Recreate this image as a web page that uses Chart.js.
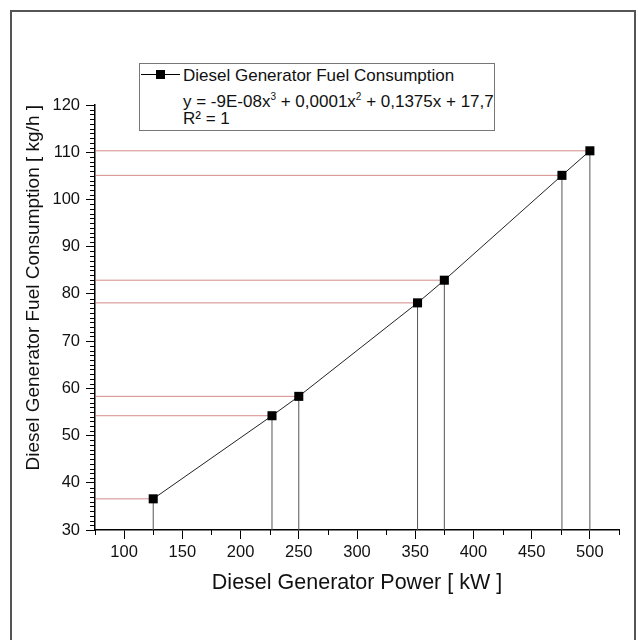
<!DOCTYPE html>
<html>
<head>
<meta charset="utf-8">
<script src="https://cdn.jsdelivr.net/npm/chart.js@4"></script>
<style>
  html, body { margin: 0; padding: 0; background: #fff; }
  #wrap { position: relative; width: 638px; height: 640px; overflow: hidden; font-family: "Liberation Sans", Arial, sans-serif; color: #111; }
  #frame { position: absolute; left: 10px; top: 10px; width: 626px; height: 700px; border: 2px solid #555; box-sizing: border-box; }
  canvas { position: absolute; left: 0; top: 0; }
  #legend { position: absolute; left: 139px; top: 63px; width: 356px; height: 68px; border: 1px solid #777; box-sizing: border-box; background: #fff; }
  .lg { position: absolute; left: 183px; font-size: 17px; line-height: 17px; white-space: nowrap; }
  .lg sup { font-size: 10px; line-height: 0; vertical-align: baseline; position: relative; top: -7px; }
  #mkLine { position: absolute; left: 141px; top: 74px; width: 39px; height: 1px; background: #000; }
  #mkBox { position: absolute; left: 156px; top: 70px; width: 9px; height: 9px; background: #000; }
</style>
</head>
<body>
<div id="wrap">
  <div id="frame"></div>
  <canvas id="fuelChart" width="638" height="640"></canvas>
  <div id="legend"></div>
  <div id="mkLine"></div>
  <div id="mkBox"></div>
  <div class="lg" style="top:67px">Diesel Generator Fuel Consumption</div>
  <div class="lg" style="top:93px">y = -9E-08x<sup>3</sup> + 0,0001x<sup>2</sup> + 0,1375x + 17,7</div>
  <div class="lg" style="top:110px">R² = 1</div>
</div>
<script>
// measured points (power kW -> fuel kg/h)
const powerKW = [125, 227, 250, 352, 375, 476, 500];
const fuelKgH = [36.6, 54.2, 58.3, 78.1, 82.9, 105.1, 110.3];

const xMajorTicks = [100, 150, 200, 250, 300, 350, 400, 450, 500];
const yMajorTicks = [30, 40, 50, 60, 70, 80, 90, 100, 110, 120];
const xMin = 75, xMax = 525, xMinorStep = 25;
const yMin = 30, yMax = 120, yMinorStep = 1;

const fontFamily = '"Liberation Sans", Arial, sans-serif';

const points = powerKW.map((x, i) => ({ x: x, y: fuelKgH[i] }));

// drop lines to both axes
const dropLines = [];
points.forEach(p => {
  dropLines.push({
    data: [{ x: xMin, y: p.y }, { x: p.x, y: p.y }],
    borderColor: "rgba(195,90,90,0.7)",
    borderWidth: 1,
    pointRadius: 0,
    showLine: true,
    order: 2
  });
  dropLines.push({
    data: [{ x: p.x, y: yMin }, { x: p.x, y: p.y }],
    borderColor: "#555",
    borderWidth: 1,
    pointRadius: 0,
    showLine: true,
    order: 2
  });
});

const minorTicks = {
  id: "minorTicks",
  afterDraw(chart) {
    const { ctx, chartArea } = chart;
    const x = chart.scales.x, y = chart.scales.y;
    ctx.save();
    ctx.strokeStyle = "#000";
    ctx.lineWidth = 1;
    ctx.beginPath();
    for (let v = xMin; v <= xMax; v += xMinorStep) {
      if (xMajorTicks.includes(v)) continue;
      const px = Math.round(x.getPixelForValue(v)) + 0.5;
      ctx.moveTo(px, chartArea.bottom);
      ctx.lineTo(px, chartArea.bottom + 5);
    }
    for (let v = yMin; v <= yMax; v += yMinorStep) {
      if (yMajorTicks.includes(v)) continue;
      const py = Math.round(y.getPixelForValue(v)) + 0.5;
      ctx.moveTo(chartArea.left, py);
      ctx.lineTo(chartArea.left - 5, py);
    }
    ctx.stroke();
    ctx.restore();
  }
};

new Chart(document.getElementById("fuelChart"), {
  type: "scatter",
  data: {
    datasets: [{
      label: "Diesel Generator Fuel Consumption",
      data: points,
      showLine: true,
      borderColor: "#222",
      borderWidth: 1,
      pointStyle: "rect",
      pointRadius: 6.4,
      pointBackgroundColor: "#000",
      pointBorderColor: "#000",
      pointBorderWidth: 0,
      order: 0
    }].concat(dropLines)
  },
  options: {
    responsive: false,
    animation: false,
    layout: { padding: { left: 0, top: 105, right: 19, bottom: 44 } },
    plugins: { legend: { display: false }, tooltip: { enabled: false } },
    scales: {
      x: {
        type: "linear",
        min: xMin,
        max: xMax,
        afterBuildTicks: s => { s.ticks = xMajorTicks.map(v => ({ value: v })); },
        afterFit: s => { s.height = 66; },
        grid: { drawOnChartArea: false, tickLength: 9, tickColor: "#000", tickWidth: 1 },
        border: { color: "#000", width: 1.5 },
        ticks: { color: "#111", font: { size: 16.5, family: fontFamily }, padding: 4, maxRotation: 0, autoSkip: false },
        title: { display: true, text: "Diesel Generator Power [ kW ]", color: "#111", font: { size: 21.5, family: fontFamily }, padding: { top: 0, bottom: 0 } }
      },
      y: {
        min: yMin,
        max: yMax,
        afterBuildTicks: s => { s.ticks = yMajorTicks.map(v => ({ value: v })); },
        afterFit: s => { s.width = 95; },
        grid: { drawOnChartArea: false, tickLength: 9, tickColor: "#000", tickWidth: 1 },
        border: { color: "#000", width: 1.5 },
        ticks: { color: "#111", font: { size: 16.5, family: fontFamily }, padding: 6, autoSkip: false },
        title: { display: true, text: "Diesel Generator Fuel Consumption [ kg/h ]", align: "end", color: "#111", font: { size: 19, family: fontFamily }, padding: { top: 22, bottom: 0 } }
      }
    }
  },
  plugins: [minorTicks]
});
</script>
</body>
</html>
